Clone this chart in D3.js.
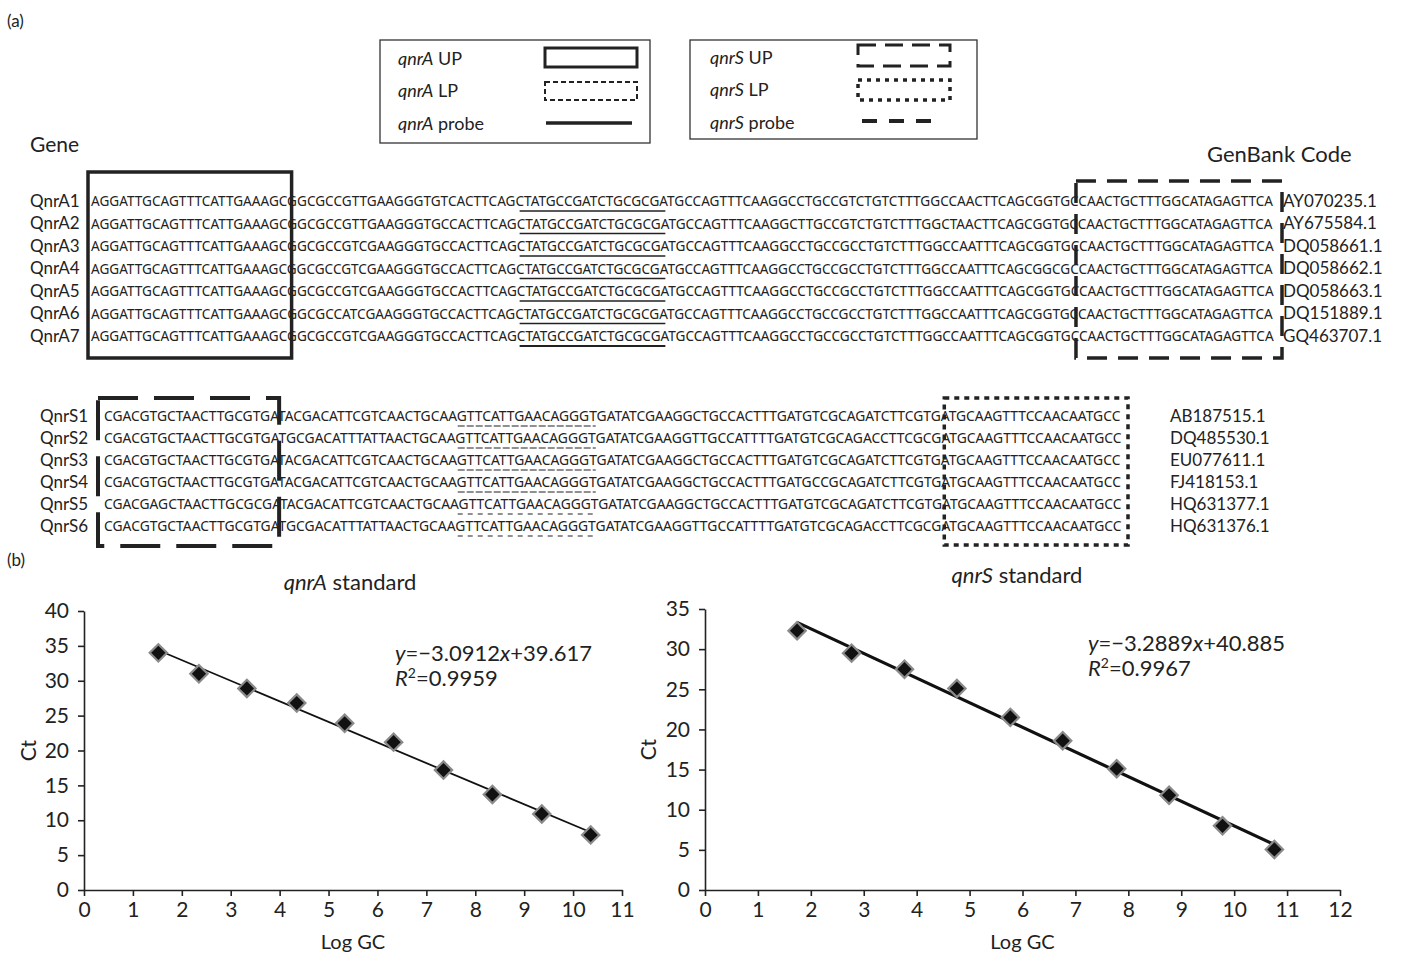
<!DOCTYPE html>
<html>
<head>
<meta charset="utf-8">
<script src="https://cdn.jsdelivr.net/npm/d3@7"></script>
<style>
body { margin: 0; background: #fff; }
svg { display: block; }
text { fill: #222; }
</style>
</head>
<body>
<svg id="fig"></svg>
<script>
/* ---- data ---- */
var qnrANames = ['QnrA1', 'QnrA2', 'QnrA3', 'QnrA4', 'QnrA5', 'QnrA6', 'QnrA7'];
var qnrASeqs = [
  'AGGATTGCAGTTTCATTGAAAGCGGCGCCGTTGAAGGGTGTCACTTCAGCTATGCCGATCTGCGCGATGCCAGTTTCAAGGCCTGCCGTCTGTCTTTGGCCAACTTCAGCGGTGCCAACTGCTTTGGCATAGAGTTCA',
  'AGGATTGCAGTTTCATTGAAAGCGGCGCCGTTGAAGGGTGCCACTTCAGCTATGCCGATCTGCGCGATGCCAGTTTCAAGGCTTGCCGTCTGTCTTTGGCTAACTTCAGCGGTGCCAACTGCTTTGGCATAGAGTTCA',
  'AGGATTGCAGTTTCATTGAAAGCGGCGCCGTCGAAGGGTGCCACTTCAGCTATGCCGATCTGCGCGATGCCAGTTTCAAGGCCTGCCGCCTGTCTTTGGCCAATTTCAGCGGTGCCAACTGCTTTGGCATAGAGTTCA',
  'AGGATTGCAGTTTCATTGAAAGCGGCGCCGTCGAAGGGTGCCACTTCAGCTATGCCGATCTGCGCGATGCCAGTTTCAAGGCCTGCCGCCTGTCTTTGGCCAATTTCAGCGGCGCCAACTGCTTTGGCATAGAGTTCA',
  'AGGATTGCAGTTTCATTGAAAGCGGCGCCGTCGAAGGGTGCCACTTCAGCTATGCCGATCTGCGCGATGCCAGTTTCAAGGCCTGCCGCCTGTCTTTGGCCAATTTCAGCGGTGCCAACTGCTTTGGCATAGAGTTCA',
  'AGGATTGCAGTTTCATTGAAAGCGGCGCCATCGAAGGGTGCCACTTCAGCTATGCCGATCTGCGCGATGCCAGTTTCAAGGCCTGCCGCCTGTCTTTGGCCAATTTCAGCGGTGCCAACTGCTTTGGCATAGAGTTCA',
  'AGGATTGCAGTTTCATTGAAAGCGGCGCCGTCGAAGGGTGCCACTTCAGCTATGCCGATCTGCGCGATGCCAGTTTCAAGGCCTGCCGCCTGTCTTTGGCCAATTTCAGCGGTGCCAACTGCTTTGGCATAGAGTTCA'
];
var qnrACodes = ['AY070235.1', 'AY675584.1', 'DQ058661.1', 'DQ058662.1', 'DQ058663.1', 'DQ151889.1', 'GQ463707.1'];
var qnrAProbe = [50, 67];

var qnrSNames = ['QnrS1', 'QnrS2', 'QnrS3', 'QnrS4', 'QnrS5', 'QnrS6'];
var qnrSSeqs = [
  'CGACGTGCTAACTTGCGTGATACGACATTCGTCAACTGCAAGTTCATTGAACAGGGTGATATCGAAGGCTGCCACTTTGATGTCGCAGATCTTCGTGATGCAAGTTTCCAACAATGCC',
  'CGACGTGCTAACTTGCGTGATGCGACATTTATTAACTGCAAGTTCATTGAACAGGGTGATATCGAAGGTTGCCATTTTGATGTCGCAGACCTTCGCGATGCAAGTTTCCAACAATGCC',
  'CGACGTGCTAACTTGCGTGATACGACATTCGTCAACTGCAAGTTCATTGAACAGGGTGATATCGAAGGCTGCCACTTTGATGTCGCAGATCTTCGTGATGCAAGTTTCCAACAATGCC',
  'CGACGTGCTAACTTGCGTGATACGACATTCGTCAACTGCAAGTTCATTGAACAGGGTGATATCGAAGGCTGCCACTTTGATGCCGCAGATCTTCGTGATGCAAGTTTCCAACAATGCC',
  'CGACGAGCTAACTTGCGCGATACGACATTCGTCAACTGCAAGTTCATTGAACAGGGTGATATCGAAGGCTGCCACTTTGATGTCGCAGATCTTCGTGATGCAAGTTTCCAACAATGCC',
  'CGACGTGCTAACTTGCGTGATGCGACATTTATTAACTGCAAGTTCATTGAACAGGGTGATATCGAAGGTTGCCATTTTGATGTCGCAGACCTTCGCGATGCAAGTTTCCAACAATGCC'
];
var qnrSCodes = ['AB187515.1', 'DQ485530.1', 'EU077611.1', 'FJ418153.1', 'HQ631377.1', 'HQ631376.1'];
var qnrSProbe = [41, 57];

var stdALogGC = [1.52, 2.35, 3.33, 4.35, 5.33, 6.33, 7.35, 8.35, 9.36, 10.36];
var stdACt    = [34.0, 31.0, 28.9, 26.8, 23.9, 21.2, 17.2, 13.7, 10.9, 7.9];
var stdSLogGC = [1.74, 2.77, 3.77, 4.76, 5.77, 6.76, 7.78, 8.77, 9.78, 10.76];
var stdSCt    = [32.3, 29.5, 27.5, 25.1, 21.5, 18.6, 15.1, 11.8, 8.0, 5.05];

/* ---- svg ---- */
var svg = d3.select('#fig').attr('width', 1406).attr('height', 956);
var labelFont = 'Lato, sans-serif';
var seqFont = 'Noto Sans, sans-serif';
var chartFont = 'Lato, sans-serif';

svg.append('text').attr('x', 7).attr('y', 27).text('(a)')
  .attr('font-family', labelFont).attr('font-size', 17);
svg.append('text').attr('x', 7).attr('y', 566).text('(b)')
  .attr('font-family', labelFont).attr('font-size', 17);

/* ---- legend ---- */
function legendLabel(g, x, y, italic, rest){
  var t = g.append('text').attr('x', x).attr('y', y).attr('dy', '0.35em')
    .attr('font-family', labelFont).attr('font-size', 18);
  t.append('tspan').attr('font-style', 'italic').text(italic);
  t.append('tspan').text(rest);
}
var lg = svg.append('g');
lg.append('rect').attr('x', 380).attr('y', 40).attr('width', 270).attr('height', 103)
  .attr('fill', 'none').attr('stroke', '#333').attr('stroke-width', 1.3);
legendLabel(lg, 398, 59, 'qnrA', ' UP');
legendLabel(lg, 398, 91, 'qnrA', ' LP');
legendLabel(lg, 398, 124, 'qnrA', ' probe');
lg.append('rect').attr('x', 545).attr('y', 48).attr('width', 92).attr('height', 19)
  .attr('fill', 'none').attr('stroke', '#222').attr('stroke-width', 3);
lg.append('rect').attr('x', 545).attr('y', 82).attr('width', 92).attr('height', 18)
  .attr('fill', 'none').attr('stroke', '#222').attr('stroke-width', 2).attr('stroke-dasharray', '5,3');
lg.append('line').attr('x1', 546).attr('x2', 632).attr('y1', 123).attr('y2', 123)
  .attr('stroke', '#222').attr('stroke-width', 3.5);

lg.append('rect').attr('x', 690).attr('y', 40).attr('width', 287).attr('height', 99)
  .attr('fill', 'none').attr('stroke', '#333').attr('stroke-width', 1.3);
legendLabel(lg, 710, 58, 'qnrS', ' UP');
legendLabel(lg, 710, 90, 'qnrS', ' LP');
legendLabel(lg, 710, 123, 'qnrS', ' probe');
lg.append('rect').attr('x', 858).attr('y', 45).attr('width', 92).attr('height', 21)
  .attr('fill', 'none').attr('stroke', '#222').attr('stroke-width', 3).attr('stroke-dasharray', '18,9');
lg.append('rect').attr('x', 858).attr('y', 80).attr('width', 92).attr('height', 20)
  .attr('fill', 'none').attr('stroke', '#222').attr('stroke-width', 3.5).attr('stroke-dasharray', '4,5');
lg.append('line').attr('x1', 862).attr('x2', 940).attr('y1', 121).attr('y2', 121)
  .attr('stroke', '#222').attr('stroke-width', 4).attr('stroke-dasharray', '15,12');

svg.append('text').attr('x', 30).attr('y', 145).attr('dy', '0.35em').text('Gene')
  .attr('font-family', labelFont).attr('font-size', 21);
svg.append('text').attr('x', 1207).attr('y', 154).attr('dy', '0.35em').text('GenBank Code')
  .attr('font-family', labelFont).attr('font-size', 22);

/* ---- sequence blocks ---- */
function drawSeqBlock(names, seqs, codes, o){
  var cx = d3.scaleLinear().domain([0, seqs[0].length]).range(o.seqRange);
  var ry = d3.scalePoint().domain(d3.range(names.length)).range(o.rowRange);
  var g = svg.append('g');

  g.selectAll('text.name').data(names).enter().append('text')
    .attr('class', 'name')
    .attr('x', o.nameX).attr('y', (d, i) => ry(i)).attr('dy', '0.35em')
    .attr('font-family', labelFont).attr('font-size', o.labelSize)
    .text(d => d);

  // squeeze each sequence to its column span with a horizontal scale
  g.selectAll('text.seq').data(seqs).enter().append('text')
    .attr('class', 'seq')
    .attr('x', 0).attr('y', 0).attr('dy', '0.35em')
    .attr('font-family', seqFont).attr('font-size', 14.5)
    .text(d => d)
    .attr('transform', function(d, i){
      var k = (cx(d.length) - cx(0)) / this.getComputedTextLength();
      return `translate(${cx(0)},${ry(i)}) scale(${k},1)`;
    });

  g.selectAll('text.code').data(codes).enter().append('text')
    .attr('class', 'code')
    .attr('x', o.codeX).attr('y', (d, i) => ry(i)).attr('dy', '0.35em')
    .attr('font-family', labelFont).attr('font-size', o.labelSize)
    .text(d => d);

  g.selectAll('line.probe').data(seqs).enter().append('line')
    .attr('class', 'probe')
    .attr('x1', cx(o.probe[0])).attr('x2', cx(o.probe[1]))
    .attr('y1', (d, i) => ry(i) + 10).attr('y2', (d, i) => ry(i) + 10)
    .attr('stroke', '#222')
    .attr('stroke-width', (d, i) => o.probeWidth(i))
    .attr('stroke-dasharray', (d, i) => o.probeDash(i));

  o.boxes.forEach(function(b){
    g.append('rect')
      .attr('x', cx(b.from) + b.dx0).attr('y', b.y0)
      .attr('width', cx(b.to) + b.dx1 - cx(b.from) - b.dx0).attr('height', b.y1 - b.y0)
      .attr('fill', 'none').attr('stroke', '#222')
      .attr('stroke-width', b.w).attr('stroke-dasharray', b.dash);
  });
}

drawSeqBlock(qnrANames, qnrASeqs, qnrACodes, {
  nameX: 30, codeX: 1283, labelSize: 17, seqRange: [91, 1274], rowRange: [201, 336],
  probe: qnrAProbe,
  probeWidth: i => i === 6 ? 2.2 : 1.3,
  probeDash: i => null,
  boxes: [
    { from: 0, to: 23.4, dx0: -3, dx1: 0, y0: 172, y1: 358, w: 3.5, dash: null },
    { from: 114.9, to: 138, dx0: 0, dx1: 8, y0: 181, y1: 358, w: 3.5, dash: '20,11' }
  ]
});

drawSeqBlock(qnrSNames, qnrSSeqs, qnrSCodes, {
  nameX: 40, codeX: 1170, labelSize: 17, seqRange: [104, 1122], rowRange: [416, 526],
  probe: qnrSProbe,
  probeWidth: i => 1.2,
  probeDash: i => i < 4 ? '7,2' : '5,5',
  boxes: [
    { from: 0, to: 20.3, dx0: -6, dx1: 0, y0: 398, y1: 546, w: 4, dash: '40,16' },
    { from: 97.4, to: 118, dx0: 0, dx1: 6, y0: 398, y1: 545, w: 3.5, dash: '5,5' }
  ]
});

/* ---- standard curves ---- */
function fit(xs, ys){
  var mx = d3.mean(xs), my = d3.mean(ys);
  var b = d3.sum(xs, (v, i) => (v - mx) * (ys[i] - my)) / d3.sum(xs, v => (v - mx) * (v - mx));
  return { b: b, a: my - b * mx };
}

function drawStd(xs, ys, o){
  var x = d3.scaleLinear().domain([0, o.xMax]).range([o.left, o.right]);
  var y = d3.scaleLinear().domain([0, o.yMax]).range([o.bottom, o.top]);
  var g = svg.append('g').attr('font-family', chartFont);

  var ax = g.append('g').attr('transform', `translate(0,${o.bottom})`)
    .call(d3.axisBottom(x).tickValues(d3.range(0, o.xMax + 1)).tickSize(6).tickSizeOuter(0).tickPadding(6));
  var ay = g.append('g').attr('transform', `translate(${o.left},0)`)
    .call(d3.axisLeft(y).tickValues(d3.range(0, o.yMax + 1, 5)).tickSize(6).tickSizeOuter(0).tickPadding(9));
  [ax, ay].forEach(a => {
    a.selectAll('path,line').attr('stroke', '#222').attr('stroke-width', 1.6);
    a.selectAll('text').attr('font-size', 21).attr('font-family', chartFont).attr('fill', '#222');
  });

  var f = fit(xs, ys);
  var x0 = d3.min(xs), x1 = d3.max(xs);
  g.append('line')
    .attr('x1', x(x0)).attr('y1', y(f.a + f.b * x0))
    .attr('x2', x(x1)).attr('y2', y(f.a + f.b * x1))
    .attr('stroke', '#111').attr('stroke-width', o.lineW);

  g.selectAll('path.pt').data(xs).enter().append('path')
    .attr('class', 'pt')
    .attr('d', d3.symbol(d3.symbolSquare, 150))
    .attr('transform', (d, i) => `translate(${x(d)},${y(ys[i])}) rotate(45)`)
    .attr('fill', '#111').attr('stroke', '#8a8a8a').attr('stroke-width', 2.2);

  var t = g.append('text').attr('x', o.titleX).attr('y', o.titleY)
    .attr('text-anchor', 'middle').attr('font-size', 22);
  t.append('tspan').attr('font-style', 'italic').text(o.gene);
  t.append('tspan').text(' standard');

  g.append('text').attr('transform', `translate(${o.ctX},${(o.top + o.bottom) / 2}) rotate(-90)`)
    .attr('text-anchor', 'middle').attr('font-size', 21).text('Ct');
  g.append('text').attr('x', (o.left + o.right) / 2).attr('y', 949)
    .attr('text-anchor', 'middle').attr('font-size', 20).text('Log GC');

  var e = g.append('text').attr('x', o.eqX).attr('y', o.eqY).attr('font-size', 22);
  e.append('tspan').attr('font-style', 'italic').text('y');
  e.append('tspan').text('=\u2212' + o.slope);
  e.append('tspan').attr('font-style', 'italic').text('x');
  e.append('tspan').text('+' + o.intercept);
  var r = g.append('text').attr('x', o.eqX).attr('y', o.eqY + 25).attr('font-size', 22);
  r.append('tspan').attr('font-style', 'italic').text('R');
  r.append('tspan').attr('font-size', 14).attr('dy', -8).text('2');
  r.append('tspan').attr('dy', 8).text('=' + o.r2);
}

drawStd(stdALogGC, stdACt, {
  xMax: 11, yMax: 40, left: 84, right: 622, top: 611, bottom: 890,
  lineW: 1.8, gene: 'qnrA', titleX: 350, titleY: 590, ctX: 36,
  eqX: 395, eqY: 661, slope: '3.0912', intercept: '39.617', r2: '0.9959'
});
drawStd(stdSLogGC, stdSCt, {
  xMax: 12, yMax: 35, left: 705, right: 1340, top: 609, bottom: 890,
  lineW: 3.2, gene: 'qnrS', titleX: 1017, titleY: 583, ctX: 656,
  eqX: 1088, eqY: 651, slope: '3.2889', intercept: '40.885', r2: '0.9967'
});
</script>
</body>
</html>
